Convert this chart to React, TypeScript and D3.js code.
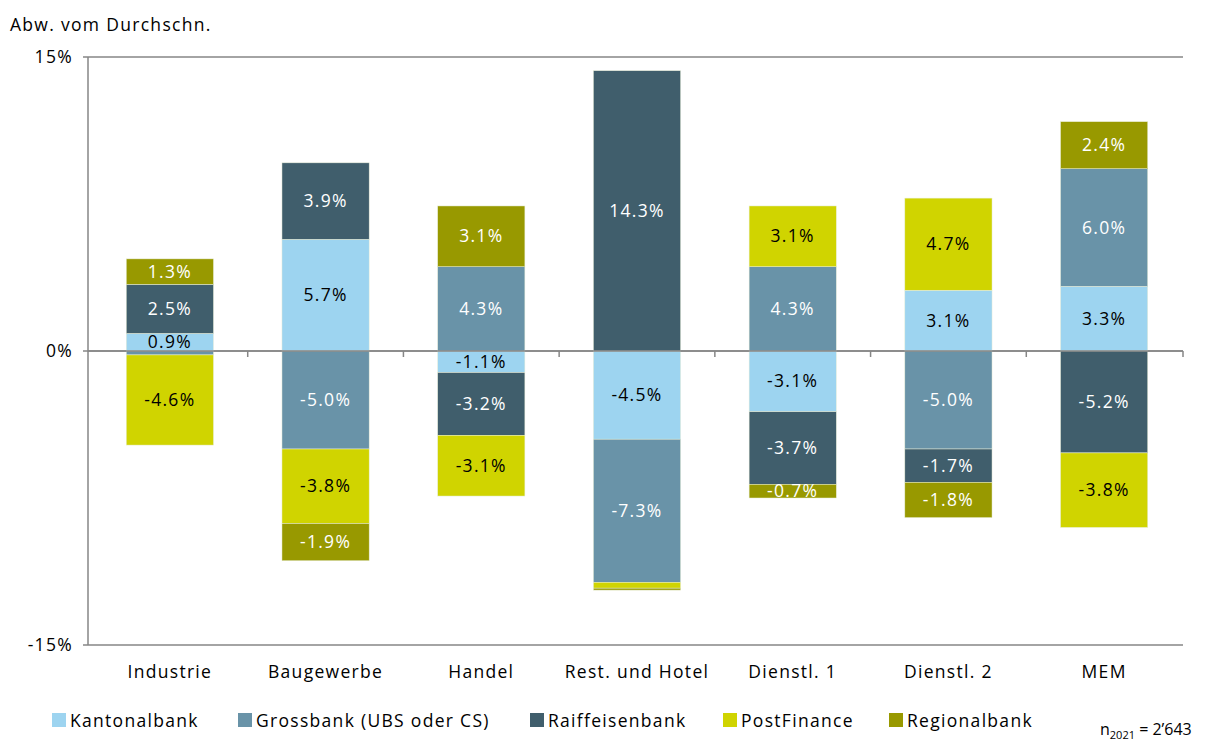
import React from "react";
import * as d3 from "d3";

const categories = ["Industrie", "Baugewerbe", "Handel", "Rest. und Hotel", "Dienstl. 1", "Dienstl. 2", "MEM"];
const seriesNames = ["Kantonalbank", "Grossbank (UBS oder CS)", "Raiffeisenbank", "PostFinance", "Regionalbank"];
const kantonalbank = [0.9, 5.7, -1.1, -4.5, -3.1, 3.1, 3.3];
const grossbank = [-0.2, -5.0, 4.3, -7.3, 4.3, -5.0, 6.0];
const raiffeisenbank = [2.5, 3.9, -3.2, 14.3, -3.7, -1.7, -5.2];
const postfinance = [-4.6, -3.8, -3.1, -0.3, 3.1, 4.7, -3.8];
const regionalbank = [1.3, -1.9, 3.1, -0.1, -0.7, -1.8, 2.4];
const yTicks = [15, 0, -15];

const colors = ["#9dd4f0", "#6993a8", "#405e6c", "#d0d400", "#989900"];
const textColors = ["#000", "#fff", "#fff", "#000", "#fff"];
const legendX = [52, 238, 530, 723, 889];

export default function App() {
  const W = 1208, H = 742;
  const x = d3.scaleBand().domain(categories).range([92, 1182]).paddingInner(0.44).paddingOuter(0.22);
  const y = d3.scaleLinear().domain([-15, 15]).range([645, 57]);
  const all = [kantonalbank, grossbank, raiffeisenbank, postfinance, regionalbank];
  const font = "'Open Sans', sans-serif";
  const fs = 17.5;
  const ls = 1.3;

  const rects: any[] = [];
  categories.forEach((c, ci) => {
    let pos = 0, neg = 0;
    all.forEach((s, si) => {
      const v = s[ci];
      let y0, y1;
      if (v >= 0) { y0 = pos; y1 = pos + v; pos = y1; }
      else { y0 = neg; y1 = neg + v; neg = y1; }
      const top = y(Math.max(y0, y1));
      const bot = y(Math.min(y0, y1));
      rects.push({ key: `${ci}-${si}`, x: x(c)!, w: x.bandwidth(), top, h: bot - top, v, si });
    });
  });

  const left = 88, right = 1183;
  const ticksX = categories.map((_, i) => x(categories[i])! - (x.step() * x.paddingInner()) / 2);
  ticksX.push(right);

  return (
    <svg width={W} height={H} style={{ position: "absolute", left: 0, top: 0 }}>
      <rect width={W} height={H} fill="#fff" />
      <text x={10} y={31} fontFamily={font} fontSize={fs} fill="#000" letterSpacing={ls}>Abw. vom Durchschn.</text>
      {yTicks.map(t => (
        <g key={t}>
          <line x1={left} x2={right} y1={y(t)} y2={y(t)} stroke="#868686" strokeWidth={1.5} />
          <line x1={left - 5} x2={left} y1={y(t)} y2={y(t)} stroke="#868686" strokeWidth={1.5} />
          <text x={73} y={y(t) + 6} textAnchor="end" fontFamily={font} fontSize={fs} fill="#000" letterSpacing={ls}>{t}%</text>
        </g>
      ))}
      <line x1={left} x2={left} y1={y(15)} y2={y(-15)} stroke="#868686" strokeWidth={1.5} />
      {rects.map(r => (
        <rect key={r.key} x={r.x} y={r.top} width={r.w} height={r.h} fill={colors[r.si]} stroke="#e8eed8" strokeWidth={0.5} />
      ))}
      <line x1={left} x2={right} y1={y(0)} y2={y(0)} stroke="#868686" strokeWidth={1.5} />
      {ticksX.slice(1).map((tx, i) => (
        <line key={i} x1={tx} x2={tx} y1={y(0)} y2={y(0) + 6} stroke="#868686" strokeWidth={1.5} />
      ))}
      {rects.filter(r => Math.abs(r.v) >= 0.5).map(r => (
        <text key={"t" + r.key} x={r.x + r.w / 2} y={r.top + r.h / 2 + 6} textAnchor="middle"
          fontFamily={font} fontSize={fs} fill={textColors[r.si]} letterSpacing={ls}>
          {r.v.toFixed(1)}%
        </text>
      ))}
      {categories.map(c => (
        <text key={c} x={x(c)! + x.bandwidth() / 2} y={678} textAnchor="middle" fontFamily={font} fontSize={fs} fill="#000" letterSpacing={ls}>{c}</text>
      ))}
      {seriesNames.map((n, i) => (
        <g key={n}>
          <rect x={legendX[i]} y={713} width={14} height={14} fill={colors[i]} />
          <text x={legendX[i] + 18} y={727} fontFamily={font} fontSize={fs} fill="#000" letterSpacing={ls}>{n}</text>
        </g>
      ))}
      <text x={1100} y={735} fontFamily={font} fontSize={16} fill="#000">
        n<tspan fontSize={11} dy={4}>2021</tspan><tspan dy={-4}> = 2’643</tspan>
      </text>
    </svg>
  );
}
